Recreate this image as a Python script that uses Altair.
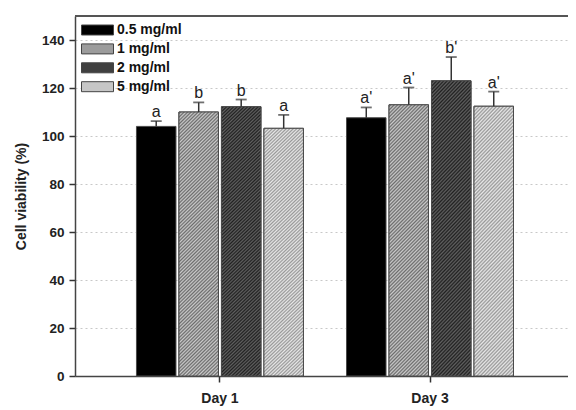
import altair as alt
import pandas as pd

days = ["Day 1", "Day 3"]
concs = ["0.5 mg/ml", "1 mg/ml", "2 mg/ml", "5 mg/ml"]
day1_mean = [104.0, 110.0, 112.2, 103.2]
day1_err = [2.2, 4.0, 3.0, 5.6]
day3_mean = [107.6, 113.0, 123.0, 112.4]
day3_err = [4.3, 7.2, 9.9, 6.1]
day1_letters = ["a", "b", "b", "a"]
day3_letters = ["a'", "a'", "b'", "a'"]

rows = []
for day, means, errs, lets in [(days[0], day1_mean, day1_err, day1_letters),
                               (days[1], day3_mean, day3_err, day3_letters)]:
    for c, m, e, l in zip(concs, means, errs, lets):
        rows.append({"day": day, "conc": c, "mean": m, "top": m + e, "letter": l})
df = pd.DataFrame(rows)

FONT = "Liberation Sans"
avg_colors = ["#000000", "#9c9c9c", "#404040", "#c6c6c6"]
# stripe colors (light, dark) and a typical bar height in px for each hatched series
hatch = {
    "1 mg/ml": ("#cacaca", "#6c6c6c", 268.0),
    "2 mg/ml": ("#606060", "#202020", 282.0),
    "5 mg/ml": ("#e8e8e8", "#989898", 258.0),
}
BAR_W = 39.5
PERIOD = 3.5


def stripe_gradient(light, dark, h0):
    G = h0 / BAR_W
    L = BAR_W * (1 + G * G)
    dt = PERIOD / L
    stops = []
    k = 0
    tmax = (BAR_W + 320) / L
    while k * dt < tmax and (k + 1) * dt <= 1:
        t0 = k * dt
        stops += [
            {"offset": round(t0, 6), "color": light},
            {"offset": round(t0 + dt * 0.5, 6), "color": dark},
        ]
        k += 1
    stops.append({"offset": round(k * dt, 6), "color": light})
    return {"gradient": "linear", "x1": 0, "y1": 0, "x2": 1, "y2": G, "stops": stops}


xenc = alt.X("day:N", sort=days, title=None,
             scale=alt.Scale(paddingInner=0.205, paddingOuter=0.276, align=0.53),
             axis=alt.Axis(labelAngle=0, labelFont=FONT, labelFontWeight="bold",
                           labelFontSize=14, labelColor="#222", tickSize=6,
                           tickColor="#333", tickWidth=1.5, domainColor="#444",
                           domainWidth=1.5, labelPadding=9, grid=False))
xoff = alt.XOffset("conc:N", sort=concs, scale=alt.Scale(paddingInner=0.07, paddingOuter=0))
yscale = alt.Scale(domain=[0, 150], nice=False)

base = alt.Chart(df)

bars = base.mark_bar(stroke="#4a4a4a", strokeWidth=1).encode(
    x=xenc,
    xOffset=xoff,
    y=alt.Y("mean:Q", scale=yscale, title="Cell viability (%)",
            axis=alt.Axis(values=[0, 20, 40, 60, 80, 100, 120, 140], labelFont=FONT,
                          labelFontWeight="bold", labelFontSize=13.5, labelColor="#222",
                          titleFont=FONT, titleFontWeight="bold", titleFontSize=14,
                          titleColor="#222", titlePadding=13, tickSize=6, tickColor="#333",
                          tickWidth=1.5, domainColor="#444", domainWidth=1.5, labelPadding=5,
                          grid=True, gridColor="#c8c8c8", gridDash=[2, 3], gridWidth=1)),
    color=alt.Color("conc:N", sort=concs,
                    scale=alt.Scale(domain=concs, range=avg_colors),
                    legend=alt.Legend(title=None, orient="none", legendX=14, legendY=5.5,
                                      symbolType="M-2,-0.625H2V0.625H-2Z", symbolSize=256,
                                      symbolStrokeColor="#444", symbolStrokeWidth=1,
                                      symbolOpacity=1, labelFont=FONT, labelFontWeight="bold",
                                      labelFontSize=14, labelColor="#111", labelOffset=11,
                                      rowPadding=2.9, padding=0)),
)

layers = [bars]
for c, (light, dark, h0) in hatch.items():
    layers.append(
        base.transform_filter(alt.datum.conc == c).mark_bar(
            fill=stripe_gradient(light, dark, h0), stroke="#4a4a4a", strokeWidth=1
        ).encode(x=xenc, xOffset=xoff, y=alt.Y("mean:Q", scale=yscale))
    )

err = base.mark_rule(color="#333", strokeWidth=1.5).encode(
    x=xenc, xOffset=xoff, y=alt.Y("mean:Q", scale=yscale), y2="top:Q")
cap = base.mark_tick(color="#333", thickness=1.8, size=11, orient="horizontal").encode(
    x=xenc, xOffset=xoff, y=alt.Y("top:Q", scale=yscale))
txt = base.mark_text(font=FONT, fontSize=16, color="#222", baseline="alphabetic", dy=-4).encode(
    x=xenc, xOffset=xoff, y=alt.Y("top:Q", scale=yscale), text="letter:N")
border = alt.Chart(pd.DataFrame({"v": [150]})).mark_rule(color="#555", strokeWidth=2).encode(
    y=alt.Y("v:Q", scale=yscale))

layers += [err, cap, txt, border]

chart = alt.layer(*layers).properties(
    width=493, height=360,
    autosize=alt.AutoSizeParams(type="none"),
    padding={"left": 67, "top": 8, "right": 0, "bottom": 30},
).configure_view(stroke=None)

chart.save("out.html", embed_options={"renderer": "svg", "actions": False})
